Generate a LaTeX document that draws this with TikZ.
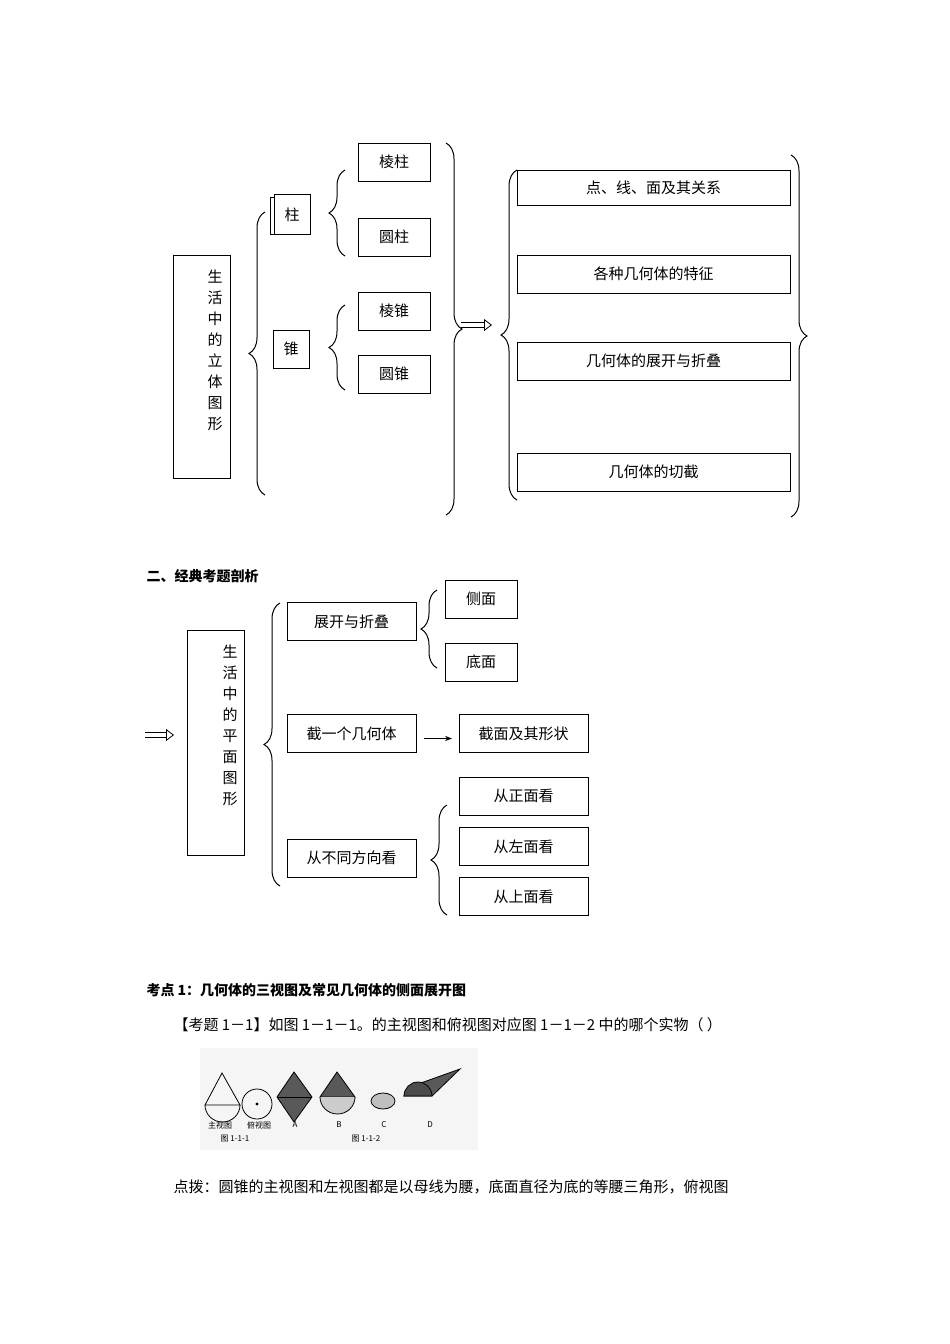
\documentclass[tikz,border=0pt]{standalone}
\usepackage{fontspec}
\setmainfont{Noto Sans CJK SC}
\usetikzlibrary{decorations.pathreplacing,arrows.meta}
\begin{document}
\begin{tikzpicture}[x=1pt,y=-1pt,line width=1pt,
  bx/.style={draw,minimum height=38pt,inner sep=0pt,font=\fontsize{15}{17}\selectfont},
  vt/.style={align=center,font=\fontsize{15}{21}\selectfont},
  brL/.style={decorate,decoration={brace,amplitude=16pt,mirror,aspect=0.5}},
  brR/.style={decorate,decoration={brace,amplitude=16pt}},
  hollow/.style={double,double distance=4pt,line width=0.8pt,-{Triangle[open,length=8pt,width=12pt]}},
  tx/.style={anchor=west,font=\fontsize{15}{17}\selectfont,inner sep=0pt}]
\useasboundingbox (0,0) rectangle (950,1344);
% ---- top diagram
\node[draw,minimum width=57pt,minimum height=223pt,inner sep=0pt] (big1) at (201.5,366.5) {};
\node[vt] (big1t) at (215,350) {生\\活\\中\\的\\立\\体\\图\\形};
\draw[brL] (265,212) -- (265,495);
\draw (270,197) rectangle (306,234);
\node[draw,fill=white,minimum width=36pt,minimum height=40pt,inner sep=0pt,font=\fontsize{15}{17}\selectfont] (zhu) at (292,214.5) {柱};
\node[bx,minimum width=36pt] (zhui) at (291,349) {锥};
\draw[brL] (345,170) -- (345,256);
\draw[brL] (345,305) -- (345,390);
\node[bx,minimum width=72pt] (lz) at (394,162) {棱柱};
\node[bx,minimum width=72pt] (yz) at (394,237) {圆柱};
\node[bx,minimum width=72pt] (lzh) at (394,311) {棱锥};
\node[bx,minimum width=72pt] (yzh) at (394,374) {圆锥};
\draw[brR] (446,143) -- (446,515);
\coordinate (a1s) at (461,325); \coordinate (a1e) at (492,325);
\draw[hollow] (a1s) -- (a1e);
\draw[brL] (517,170) -- (517,500);
\node[bx,minimum width=273pt,minimum height=35pt] (r1) at (653.5,187.5) {点、线、面及其关系};
\node[bx,minimum width=273pt] (r2) at (653.5,274) {各种几何体的特征};
\node[bx,minimum width=273pt] (r3) at (653.5,361) {几何体的展开与折叠};
\node[bx,minimum width=273pt] (r4) at (653.5,472) {几何体的切截};
\draw[brR] (791,155) -- (791,517);
% ---- heading
\node[tx,font=\bfseries\fontsize{14}{16}\selectfont] (h2) at (146,576) {二、经典考题剖析};
% ---- second diagram
\coordinate (a2s) at (145,735); \coordinate (a2e) at (174,735);
\draw[hollow] (a2s) -- (a2e);
\node[draw,minimum width=57pt,minimum height=225pt,inner sep=0pt] (big2) at (215.5,742.5) {};
\node[vt] (big2t) at (230,725) {生\\活\\中\\的\\平\\面\\图\\形};
\draw[brL] (280,603) -- (280,886);
\node[bx,minimum width=129pt] (zk) at (351.5,621.5) {展开与折叠};
\draw[brL] (437,590) -- (437,668);
\node[bx,minimum width=72pt] (cm) at (481,599) {侧面};
\node[bx,minimum width=72pt] (dm) at (481,662) {底面};
\node[bx,minimum width=129pt] (jy) at (351.5,733.5) {截一个几何体};
\node[bx,minimum width=129pt] (jm) at (523.5,733.5) {截面及其形状};
\draw[-{Stealth[length=7pt]}] (jy.east) ++(7,5) coordinate (ja) -- (452,738.5);
\node[bx,minimum width=129pt] (bt) at (351.5,858) {从不同方向看};
\draw[brL] (447,805) -- (447,915);
\node[bx,minimum width=129pt] (zm) at (523.5,796) {从正面看};
\node[bx,minimum width=129pt] (zuo) at (523.5,846.5) {从左面看};
\node[bx,minimum width=129pt] (sm) at (523.5,896.5) {从上面看};
% ---- text
\node[tx,font=\bfseries\fontsize{14}{16}\selectfont] (kd) at (146,990) {考点 1：几何体的三视图及常见几何体的侧面展开图};
\node[tx] (kt) at (173,1025) {【考题 1－1】如图 1－1－1。的主视图和俯视图对应图 1－1－2 中的哪个实物（ ）};
% picture
\fill[gray!8] (200,1048) rectangle (478,1150);
\begin{scope}[line width=0.8pt]
\draw (222,1073) -- (205,1105) -- (240,1105) -- cycle;
\draw (205,1105) arc[start angle=180,end angle=360,x radius=17.5,y radius=-17];
\draw (257,1104) circle[radius=15]; \fill (257,1104) circle[radius=1.6];
\filldraw[fill=gray!70!black] (294,1072) -- (277,1097) -- (294,1122) -- (312,1097) -- cycle;
\draw (277,1097) -- (312,1097);
\filldraw[fill=gray!70!black] (337,1072) -- (320,1097) -- (355,1097) -- cycle;
\filldraw[fill=gray!40] (320,1097) arc[start angle=180,end angle=360,x radius=17.5,y radius=-17];
\filldraw[fill=gray!50] (383,1101) ellipse[x radius=12,y radius=8];
\filldraw[fill=gray!70!black] (404,1096) -- (432,1096) -- (460,1069) -- (418,1084) -- cycle;
\filldraw[fill=gray!60!black] (404,1096) arc[start angle=180,end angle=360,radius=14] -- cycle;
\end{scope}
\begin{scope}[font=\fontsize{8}{9}\selectfont]
\node (l1) at (220,1125) {主视图}; \node (l2) at (259,1125) {俯视图};
\node (lA) at (295,1125) {A}; \node (lB) at (339,1125) {B};
\node (lC) at (384,1125) {C}; \node (lD) at (430,1125) {D};
\node (f1) at (235,1139) {图 1-1-1}; \node (f2) at (366,1139) {图 1-1-2};
\end{scope}
\node[tx] (db) at (173,1187) {点拨：圆锥的主视图和左视图都是以母线为腰，底面直径为底的等腰三角形，俯视图};
\end{tikzpicture}
\end{document}
